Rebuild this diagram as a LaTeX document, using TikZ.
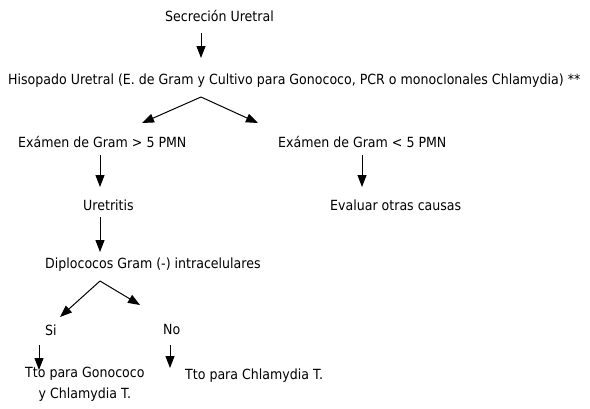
\documentclass[tikz,border=0pt]{standalone}
\usepackage{fontspec}
\setmainfont{DejaVu Sans Condensed}
\usetikzlibrary{arrows.meta}
\tikzset{
  texto/.style={anchor=base west, inner sep=0pt, font=\fontsize{14}{21}\selectfont},
  flecha/.style={line width=1pt, -{Triangle[width=9pt,length=12pt]}}
}
\begin{document}
\begin{tikzpicture}[x=1pt,y=-1pt]
		\useasboundingbox (0,0) rectangle (590,408);
		\node[texto] (sec) at (165,21) {Secreción Uretral};
		\node[texto] (hiso) at (8,84) {Hisopado Uretral (E. de Gram y Cultivo para Gonococo, PCR o monoclonales Chlamydia) **};
		\node[texto] (gramA) at (18,147) {Exámen de Gram > 5 PMN};
		\node[texto] (gramB) at (278,147) {Exámen de Gram < 5 PMN};
		\node[texto] (uret) at (83,210) {Uretritis};
		\node[texto] (evalr) at (330,210) {Evaluar otras causas};
		\node[texto] (diplo) at (45,268) {Diplococos Gram (-) intracelulares};
		\node[texto] (si) at (45,335) {Si};
		\node[texto] (no) at (163,334) {No};
		\node[texto, align=center] (ttoA) at (25,398) {Tto para Gonococo\\y Chlamydia T.};
		\node[texto] (ttoB) at (185,379) {Tto para Chlamydia T.};
		
		\foreach \n/\x/\y in {a/201/33, b/201/58, c/201/97, d/142/123, e/258/123,
			f/100/155, g/100/187, h/362/155, i/362/187, j/100/217, k/100/252,
			l/100/281, m/60/317, n/140/305, o/39/345, p/39/370, q/170/345, r/170/368} {
			\coordinate (\n) at (\x,\y);
		}
		
		\draw[flecha] (a) -- (b);
		\draw[flecha] (c) -- (d);
		\draw[flecha] (c) -- (e);
		\draw[flecha] (f) -- (g);
		\draw[flecha] (h) -- (i);
		\draw[flecha] (j) -- (k);
		\draw[flecha] (l) -- (m);
		\draw[flecha] (l) -- (n);
		\draw[flecha] (o) -- (p);
		\draw[flecha] (q) -- (r);
		
	\end{tikzpicture}
\end{document}
